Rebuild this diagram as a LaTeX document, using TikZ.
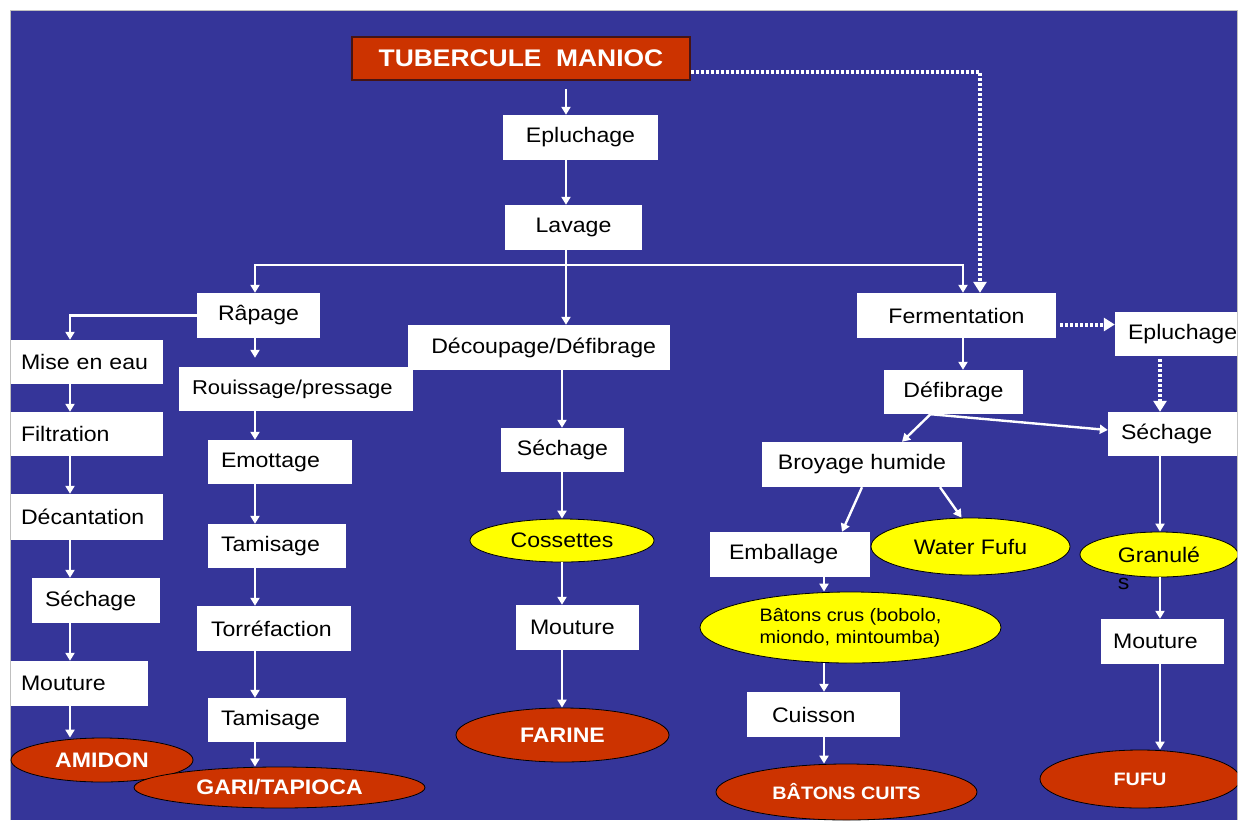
\documentclass[tikz,border=0pt]{standalone}
\usepackage{fontspec}
\setmainfont{Liberation Sans}[FakeStretch=1.1]
\usetikzlibrary{arrows.meta,shapes.geometric,calc}
\definecolor{bgblue}{RGB}{53,53,153}
\definecolor{redf}{RGB}{204,51,0}
\definecolor{yelf}{RGB}{255,255,0}
\definecolor{tubborder}{RGB}{70,20,20}
\newcommand\fsN{\fontsize{21}{25}\selectfont}
\newcommand\fsR{\fontsize{20}{24}\selectfont}
\newcommand\fsS{\fontsize{18}{22}\selectfont}
\newcommand\fsT{\fontsize{24}{28}\selectfont\bfseries}
\begin{document}
\begin{tikzpicture}[x=1pt,y=-1pt,
  bx/.style={rectangle, fill=white, inner ysep=0pt, inner xsep=0pt, font=\fsN, text=black, align=center},
  lb/.style 2 args={inner xsep=#1, text width=#2, align=left},
  el/.style={ellipse, draw=black, line width=0.8pt, inner sep=0pt},
  prod/.style={el, fill=redf, text=white, font=\fsN\bfseries},
  inter/.style={el, fill=yelf, text=black, font=\fsN},
  arr/.style={draw=white, line width=2.4pt, -{Triangle[width=9pt,length=8pt]}},
  dotarr/.style={draw=white, line width=4pt, dash pattern=on 3pt off 2pt, -{Triangle[width=13pt,length=11pt]}}]
\useasboundingbox (0,0) rectangle (1240,820);
\fill[white] (0,0) rectangle (1240,820);
\fill[bgblue] (10,10) rectangle (1237,820);
\draw[gray!50, line width=1pt] (10,820) -- (10,10) -- (1237,10) -- (1237,820);
\begin{scope}
\clip (10,10) rectangle (1237,820);
% column coordinates
\coordinate (cA) at (70,0);
\coordinate (cB) at (255,0);
\coordinate (cM) at (566,0);
\coordinate (cS) at (562,0);
\coordinate (cF) at (963,0);
\coordinate (cD) at (980,0);
\coordinate (cE) at (824,0);
\coordinate (cR) at (1160,0);
\coordinate (hub) at (566,265);

% top
\node[bx, minimum width=338pt, minimum height=43pt, fill=redf, draw=tubborder, line width=1.5pt, text=white, font=\fsT] (tub) at (521,58.5) {TUBERCULE\ \ MANIOC};
\node[bx, minimum width=155pt, minimum height=45pt] (ep1) at (580.5,137.5) {Epluchage};
\node[bx, minimum width=137pt, minimum height=45pt] (lav) at (573.5,227.5) {Lavage};

% second level
\node[bx, minimum width=123pt, minimum height=45pt] (rap) at (258.5,315.5) {Râpage};
\node[bx, minimum height=45pt, inner xsep=14pt, text width=234pt, align=right] (dec) at (539,347.5) {Découpage/Défibrage};
\node[bx, minimum width=199pt, minimum height=45pt] (fer) at (956.5,315.5) {Fermentation};
\node[bx, lb={13pt}{114pt}, minimum height=44pt] (eplR) at (1185,334) {Epluchage};

% left column
\node[bx, lb={10pt}{132pt}, minimum height=44pt] (mise) at (87,362) {Mise en eau};
\node[bx, lb={10pt}{132pt}, minimum height=44pt] (filt) at (87,434) {Filtration};
\node[bx, lb={10pt}{132pt}, minimum height=46pt] (deca) at (87,517) {Décantation};
\node[bx, lb={13pt}{102pt}, minimum height=45pt] (sechL) at (96,600.5) {Séchage};
\node[bx, lb={10pt}{117pt}, minimum height=45pt] (moutL) at (79.5,683.5) {Mouture};
\node[prod, minimum width=182pt, minimum height=44pt] (amidon) at (102,760) {AMIDON};

% second column
\node[bx, lb={13pt}{208pt}, minimum height=44pt, font=\fsR] (rou) at (296,389) {Rouissage/pressage};
\node[bx, lb={13pt}{118pt}, minimum height=44pt] (emo) at (280,462) {Emottage};
\node[bx, lb={13pt}{112pt}, minimum height=44pt] (tam1) at (277,546) {Tamisage};
\node[bx, lb={14pt}{126pt}, minimum height=45pt] (tor) at (274,628.5) {Torréfaction};
\node[bx, lb={13pt}{112pt}, minimum height=44pt] (tam2) at (277,720) {Tamisage};
\node[prod, minimum width=291pt, minimum height=41pt] (gari) at (279.5,787.5) {GARI/TAPIOCA};

% middle column
\node[bx, minimum width=123pt, minimum height=44pt] (sechM) at (562.5,450) {Séchage};
\node[inter, minimum width=184pt, minimum height=43pt] (coss) at (562,540.5) {Cossettes};
\node[bx, lb={14pt}{95pt}, minimum height=45pt] (moutM) at (577.5,627.5) {Mouture};
\node[prod, minimum width=213pt, minimum height=54pt] (farine) at (562.5,735) {FARINE};

% right part
\node[bx, minimum width=139pt, minimum height=44pt] (def) at (953.5,392) {Défibrage};
\node[bx, lb={13pt}{121pt}, minimum height=44pt] (sechR) at (1181.5,434) {Séchage};
\node[bx, minimum width=200pt, minimum height=45pt] (broy) at (862,464.5) {Broyage humide};
\node[bx, lb={19pt}{122pt}, minimum height=45pt] (emb) at (790,554.5) {Emballage};
\node[inter, minimum width=199pt, minimum height=57pt] (wfufu) at (970.5,546.5) {Water Fufu};
\node[inter, minimum width=158pt, minimum height=45pt] (gran) at (1159,554.5) {\vphantom{Gé}\smash{\begin{tabular}[t]{@{}l@{}}Granulé\\[2pt]s\end{tabular}}};
\node[inter, minimum width=301pt, minimum height=71pt, font=\fsS, align=left] (bcrus) at (850.5,627.5) {Bâtons crus (bobolo,\\miondo, mintoumba)};
\node[bx, lb={25pt}{103pt}, minimum height=45pt] (cuis) at (823.5,714.5) {Cuisson};
\node[prod, minimum width=261pt, minimum height=56pt, font=\fsS\bfseries] (bcuits) at (846.5,792) {BÂTONS CUITS};
\node[bx, lb={12pt}{99pt}, minimum height=45pt] (moutR) at (1162.5,641.5) {Mouture};
\node[prod, minimum width=200pt, minimum height=58pt, font=\fsS\bfseries] (fufu) at (1140,779) {FUFU};

% main trunk
\draw[arr, shorten <=8pt] (tub.south -| cM) -- (ep1.north -| cM);
\draw[arr] (ep1.south -| cM) -- (lav.north -| cM);
\draw[arr] (lav.south -| cM) -- (dec.north -| cM);
\draw[arr] (hub) -| (rap.north -| cB);
\draw[arr] (hub) -| (fer.north -| cF);

% left column
\draw[arr] (rap.west) -| (mise.north -| cA);
\foreach \a/\b in {mise/filt, filt/deca, deca/sechL, sechL/moutL, moutL/amidon}
  \draw[arr] (\a.south -| cA) -- (\b.north -| cA);

% second column
\draw[arr, shorten >=9pt] (rap.south -| cB) -- (rou.north -| cB);
\foreach \a/\b in {rou/emo, emo/tam1, tam1/tor, tor/tam2, tam2/gari}
  \draw[arr] (\a.south -| cB) -- (\b.north -| cB);

% middle column
\foreach \a/\b in {dec/sechM, sechM/coss, coss/moutM, moutM/farine}
  \draw[arr] (\a.south -| cS) -- (\b.north -| cS);

% right part
\draw[arr] (fer.south -| cF) -- (def.north -| cF);
\draw[arr] ([xshift=-23pt]def.south) -- ([xshift=40pt]broy.north);
\draw[arr] ([xshift=-23pt]def.south) -- ([yshift=4pt]sechR.west);
\draw[arr] (broy.south) -- ([xshift=52pt]emb.north);
\draw[arr] ([xshift=78pt]broy.south) -- ([xshift=-9pt]wfufu.north);
\foreach \a/\b in {emb/bcrus, bcrus/cuis, cuis/bcuits}
  \draw[arr] (\a.south -| cE) -- (\b.north -| cE);
\foreach \a/\b in {sechR/gran, gran/moutR, moutR/fufu}
  \draw[arr] (\a.south -| cR) -- (\b.north -| cR);

% dotted paths
\draw[dotarr] ([yshift=-13.5pt]tub.east) -| (fer.north -| cD);
\coordinate (f1) at ([yshift=-9pt]fer.east);
\draw[dotarr, shorten <=4pt] (f1) -- (f1 -| eplR.west);
\draw[dotarr, shorten <=3pt] (eplR.south -| cR) -- (sechR.north -| cR);
\end{scope}
\end{tikzpicture}
\end{document}
